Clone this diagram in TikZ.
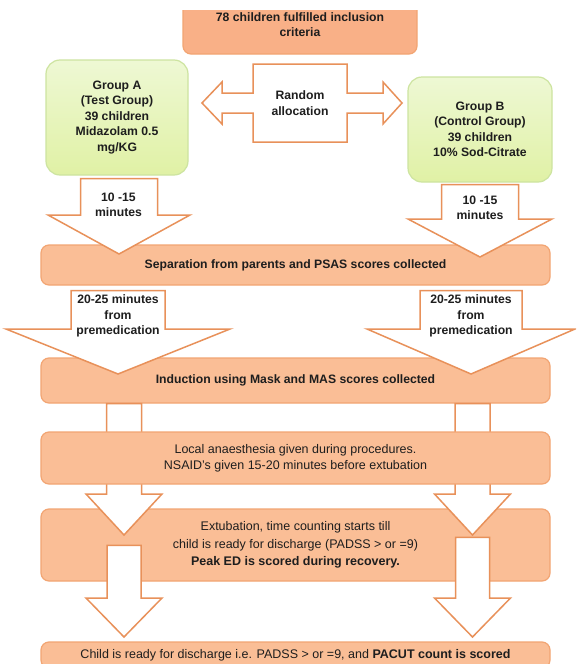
\documentclass[tikz,border=0pt]{standalone}
\usepackage{fontspec}
\setmainfont{Liberation Sans}
\usepackage{tikz}
\usetikzlibrary{calc}
\definecolor{stepfill}{RGB}{250,190,150}
\definecolor{inclfill}{RGB}{249,176,135}
\definecolor{stepline}{RGB}{242,165,115}
\definecolor{arrowline}{RGB}{232,145,90}
\definecolor{greentop}{RGB}{238,248,212}
\definecolor{greenbot}{RGB}{224,241,165}
\definecolor{greenline}{RGB}{205,228,160}
\definecolor{inktext}{RGB}{30,30,30}
% block arrow pointing down: top, tip, shaft half width, head half width, head length
\newcommand{\blockdown}[5]{%
  \draw[blockarrow] let \p1=(#1), \p2=(#2) in
    (\x2-#3pt,\y1) -- (\x2+#3pt,\y1) -- (\x2+#3pt,\y2+#5pt) -- (\x2+#4pt,\y2+#5pt)
    -- (\x2,\y2) -- (\x2-#4pt,\y2+#5pt) -- (\x2-#3pt,\y2+#5pt) -- cycle;}

\begin{document}
\begin{tikzpicture}[x=1pt, y=-1pt,
    every node/.style={font=\fontsize{12.5}{16}\selectfont, text=inktext},
    stepbox/.style={draw=stepline, line width=1.2pt, fill=stepfill, rounded corners=8pt, minimum width=509pt, align=center, inner sep=0pt},
    boldtext/.style={font=\fontsize{12.2}{15.5}\selectfont\bfseries},
    groupbox/.style={draw=greenline, line width=1.2pt, top color=greentop, bottom color=greenbot, rounded corners=14pt, align=center, inner sep=0pt, boldtext},
    blockarrow/.style={draw=arrowline, line width=1.5pt, fill=white, line join=miter},
    arrowtext/.style={align=center, inner sep=0pt, boldtext},
  ]
  \clip (0,0) rectangle (576,664);
  \fill[white] (0,0) rectangle (576,664);

  % Inclusion
  \begin{scope}
    \clip (0,10) rectangle (576,664);
    \node[stepbox, fill=inclfill, minimum width=234pt, minimum height=59pt, boldtext] (incl) at (300,24.5) {78 children fulfilled inclusion\\criteria};
  \end{scope}

  % Groups
  \node[groupbox, minimum width=142pt, minimum height=115pt] (ga) at (117,117.5) {Group A\\(Test Group)\\39 children\\Midazolam 0.5\\mg/KG};
  \node[groupbox, minimum width=144pt, minimum height=105pt] (gb) at (480,129.5) {Group B\\(Control Group)\\39 children\\10\% Sod-Citrate};

  % Steps
  \node[stepbox, minimum height=40pt, boldtext] (sep) at (295.5,265) {Separation from parents and PSAS scores collected};
  \node[stepbox, minimum height=45pt, boldtext] (ind) at (295.5,380.5) {Induction using Mask and MAS scores collected};
  \node[stepbox, minimum height=72pt, font=\fontsize{12.5}{17.5}\selectfont] (ext) at (295.5,545) {Extubation, time counting starts till\\child is ready for discharge (PADSS > or =9)\\\textbf{Peak ED is scored during recovery.}};
  \node[stepbox, minimum height=26pt] (dis) at (295.5,655) {Child is ready for discharge i.e. PADSS > or =9, and \textbf{PACUT count is scored}};

  % Random allocation
  \draw[blockarrow] (253,64) -- (347,64) -- (347,93) -- (383,93) -- (383,82) -- (402,103)
    -- (383,124) -- (383,113) -- (347,113) -- (347,142) -- (253,142) -- (253,113)
    -- (222,113) -- (222,124) -- (202,103) -- (222,82) -- (222,93) -- (253,93) -- cycle;
  \node[arrowtext] (rand) at (300,103) {Random\\allocation};

  % Arrow tips
  \coordinate (tipA1) at (119,254);
  \coordinate (tipB1) at (480,257);
  \coordinate (tipA2) at (118,374);
  \coordinate (tipB2) at (471,374);
  \coordinate (tipA3) at (124,535);
  \coordinate (tipB3) at (472.5,535);
  \coordinate (tipA4) at (124,637);
  \coordinate (tipB4) at (472.5,637);

  % Arrows
  \blockdown{$(ga.south)+(0,3)$}{tipA1}{38.5}{71}{39}
  \blockdown{$(gb.south)+(0,2)$}{tipB1}{38.5}{72}{38}
  \blockdown{$(sep.south)+(0,5)$}{tipA2}{47}{112}{45}
  \blockdown{$(sep.south)+(0,5)$}{tipB2}{51}{104}{45}
  \blockdown{ind.south}{tipA3}{17.5}{38}{41}
  \blockdown{ind.south}{tipB3}{17.5}{38}{41}
  \blockdown{$(ext.north)+(0,37)$}{tipA4}{17}{38}{39}
  \blockdown{$(ext.north)+(0,29)$}{tipB4}{17}{38}{39}
  \node[arrowtext] (waitA1) at (118.5,205) {10 -15\\minutes};
  \node[arrowtext] (waitB1) at (480,208) {10 -15\\minutes};
  \node[arrowtext] (waitA2) at (118,316) {20-25 minutes\\from\\premedication};
  \node[arrowtext] (waitB2) at (471,316) {20-25 minutes\\from\\premedication};

  % Local anaesthesia (covers the shafts)
  \node[stepbox, minimum height=52pt] (loc) at (295.5,458) {Local anaesthesia given during procedures.\\NSAID's given 15-20 minutes before extubation};
\end{tikzpicture}
\end{document}
